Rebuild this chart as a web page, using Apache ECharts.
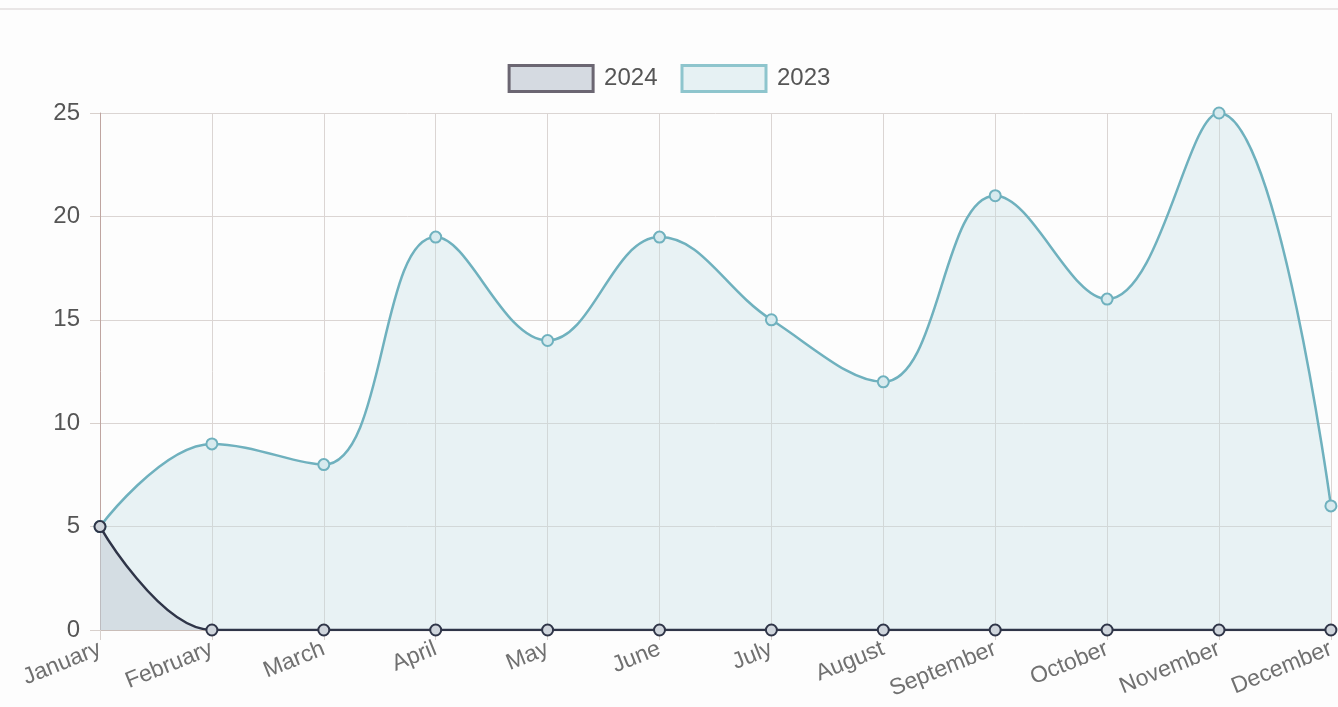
<!DOCTYPE html>
<html><head><meta charset="utf-8">
<script src="https://cdn.jsdelivr.net/npm/echarts@6/dist/echarts.min.js"></script>
<style>html,body{margin:0;padding:0;background:#fdfdfd}#c{width:1338px;height:707px}</style>
</head><body><div id="c"></div>
<script>
const categories = ['January','February','March','April','May','June','July','August','September','October','November','December'];
const series2024 = [5,0,0,0,0,0,0,0,0,0,0,0];
const series2023 = [5,9,8,19,14,19,15,12,21,16,25,6];
const yTicks = [0,5,10,15,20,25];

const c2024 = {line:'#2f3548', fill:'rgba(185,193,204,0.62)', pt:'#cfd5dc'};
const c2023 = {line:'#6fb1be', fill:'rgba(192,220,227,0.5)', pt:'#d7eaee'};

const chart = echarts.init(document.getElementById('c'));
chart.setOption({
  backgroundColor: '#fdfdfd',
  animation: false,
  graphic: [{type:'line', shape:{x1:0,y1:9,x2:1338,y2:9}, style:{stroke:'#e2dede', lineWidth:1.5}}],
  legend: {
    data: [
      {name:'2024', itemStyle:{color:'#d5dae1', borderColor:'#6b6672', borderWidth:3}},
      {name:'2023', itemStyle:{color:'#e6f1f3', borderColor:'#8ec5cd', borderWidth:3}}
    ],
    top: 59, left: 'center',
    itemWidth: 84, itemHeight: 26, itemGap: 23,
    textStyle: {fontFamily:'Liberation Sans, Arial', fontSize: 24, color:'#555', padding:[0,0,0,6]},
    icon: 'rect'
  },
  grid: {left: 100, right: 5, top: 113, bottom: 77, containLabel: false},
  xAxis: {
    type: 'category', data: categories, boundaryGap: false,
    axisLine: {show: true, lineStyle: {color:'#c9bdb8', width:1}},
    axisTick: {show: true, length: 10, alignWithLabel: true, lineStyle:{color:'#d8d0cc'}},
    splitLine: {show: true, lineStyle:{color:'#dbd5d3'}},
    axisLabel: {rotate: 22, fontFamily:'Liberation Sans, Arial', fontSize: 23, color:'#707070', margin: 18, interval: 0}
  },
  yAxis: {
    type: 'value', min: 0, max: 25, interval: 5,
    axisLine: {show: true, lineStyle: {color:'#bfa5a0', width:1}},
    axisTick: {show: true, length: 10, lineStyle:{color:'#d8d0cc'}},
    splitLine: {show: true, lineStyle:{color:'#dbd5d3'}},
    axisLabel: {fontFamily:'Liberation Sans, Arial', fontSize: 24, color:'#555', margin: 20,
      formatter: v => yTicks.includes(v) ? String(v) : ''}
  },
  series: [
    {
      name: '2023', type: 'line', data: series2023, smooth: 0.4,
      symbol: 'circle', symbolSize: 11,
      lineStyle: {color:c2023.line, width: 2.5},
      itemStyle: {color:c2023.pt, borderColor:c2023.line, borderWidth: 2},
      areaStyle: {color:c2023.fill, origin: 'start'},
      z: 2
    },
    {
      name: '2024', type: 'line', data: series2024, smooth: 0.4,
      symbol: 'circle', symbolSize: 11,
      lineStyle: {color:c2024.line, width: 2.5},
      itemStyle: {color:c2024.pt, borderColor:c2024.line, borderWidth: 2},
      areaStyle: {color:c2024.fill, origin: 'start'},
      z: 3
    }
  ]
});
</script></body></html>
